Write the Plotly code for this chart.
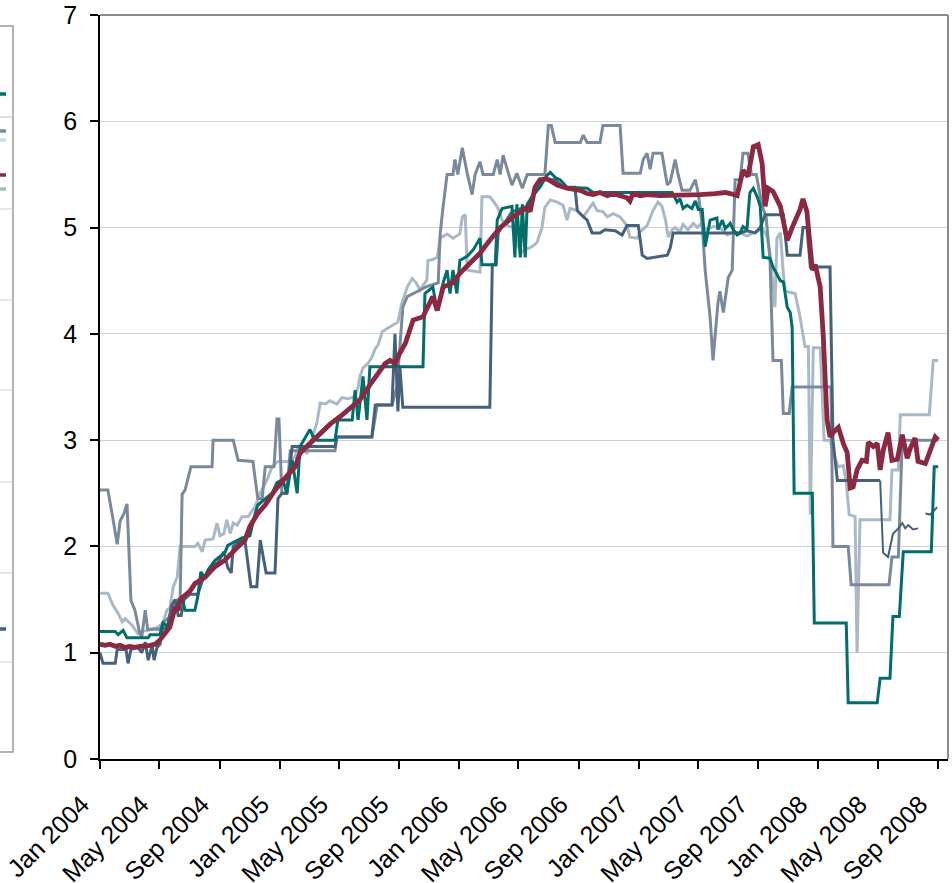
import pandas as pd
import plotly.graph_objects as go

START = pd.Timestamp("2004-01-01")

# x values are day offsets from 1 Jan 2004

teal_day = [0, 31, 37, 47, 55, 98, 102, 122, 128, 136, 146, 157, 167, 173, 193, 199, 205, 214, 220, 234,
            254, 260, 289, 305, 315, 321, 342, 350, 360, 372, 380, 391, 401, 407, 417, 427, 433, 441, 478, 484,
            513, 519, 525, 535, 543, 549, 657, 661, 677, 686, 698, 706, 712, 718, 726, 732, 747, 759, 773, 777,
            804, 808, 818, 838, 844, 848, 855, 859, 865, 869, 879, 895, 909, 916, 926, 936, 950, 991, 1003, 1164,
            1174, 1180, 1186, 1194, 1204, 1211, 1217, 1225, 1231, 1241, 1255, 1257, 1266, 1272, 1282, 1288, 1296, 1302, 1308, 1316,
            1322, 1329, 1337, 1343, 1349, 1363, 1369, 1384, 1390, 1398, 1404, 1408, 1412, 1449, 1453, 1518, 1522, 1581, 1587, 1607,
            1613, 1626, 1634, 1691, 1697, 1705]
teal_val = [1.20, 1.20, 1.17, 1.21, 1.14, 1.14, 1.17, 1.17, 1.28, 1.25, 1.33, 1.45, 1.53, 1.40, 1.40, 1.53, 1.76, 1.70, 1.78, 1.87,
            1.94, 2.01, 2.08, 2.10, 2.30, 2.39, 2.47, 2.50, 2.60, 2.63, 2.50, 2.81, 2.50, 2.94, 3.02, 3.10, 3.04, 3.00, 3.00, 3.19,
            3.19, 3.47, 3.19, 3.60, 3.19, 3.69, 3.69, 4.38, 4.44, 4.22, 4.48, 4.60, 4.38, 4.60, 4.38, 4.69, 4.73, 4.79, 4.90, 4.65,
            4.65, 5.07, 5.18, 5.20, 4.72, 5.22, 4.72, 5.22, 4.72, 5.22, 5.29, 5.38, 5.49, 5.52, 5.47, 5.45, 5.38, 5.37, 5.33, 5.33,
            5.24, 5.27, 5.18, 5.21, 5.18, 5.25, 5.17, 5.17, 4.82, 5.07, 5.09, 4.98, 5.07, 4.99, 5.04, 4.98, 4.93, 4.95, 5.01, 4.98,
            5.33, 5.37, 5.29, 5.20, 4.72, 4.71, 4.63, 4.50, 4.49, 4.25, 4.20, 4.06, 2.50, 2.50, 1.28, 1.28, 0.53, 0.53, 0.76, 0.76,
            1.34, 1.34, 1.95, 1.95, 2.75, 2.75]

slate_day = [0, 16, 26, 35, 41, 49, 55, 63, 71, 81, 85, 92, 97, 122, 132, 146, 153, 163, 167, 173,
             185, 228, 230, 271, 281, 311, 321, 330, 336, 354, 360, 364, 370, 380, 387, 478, 482, 553, 564, 594,
             604, 616, 625, 667, 688, 692, 698, 706, 718, 722, 728, 737, 747, 757, 763, 773, 779, 800, 808, 814,
             820, 828, 838, 848, 859, 869, 905, 912, 918, 926, 977, 983, 991, 1017, 1023, 1058, 1064, 1099, 1105, 1113,
             1119, 1125, 1143, 1154, 1160, 1170, 1176, 1184, 1200, 1211, 1217, 1225, 1231, 1241, 1247, 1257, 1261, 1268, 1278, 1286,
             1292, 1302, 1308, 1318, 1325, 1335, 1347, 1355, 1363, 1369, 1386, 1390, 1402, 1408, 1487, 1491, 1522, 1528, 1605, 1611,
             1624, 1632, 1705]
slate_val = [2.53, 2.53, 2.27, 2.02, 2.24, 2.31, 2.40, 1.49, 1.40, 1.18, 1.15, 1.40, 1.22, 1.22, 1.30, 1.35, 1.49, 1.50, 2.49, 2.53,
             2.75, 2.75, 3.00, 3.00, 2.81, 2.80, 2.45, 2.45, 2.75, 2.75, 3.20, 3.20, 2.50, 2.50, 2.90, 2.90, 3.03, 3.03, 3.33, 3.33,
             3.50, 4.25, 4.35, 4.45, 4.48, 4.94, 5.20, 5.50, 5.50, 5.64, 5.50, 5.75, 5.51, 5.31, 5.50, 5.62, 5.50, 5.50, 5.64, 5.50,
             5.68, 5.55, 5.40, 5.51, 5.37, 5.50, 5.50, 5.96, 5.96, 5.80, 5.80, 5.87, 5.80, 5.80, 5.96, 5.96, 5.51, 5.51, 5.64, 5.70,
             5.55, 5.70, 5.70, 5.40, 5.43, 5.64, 5.50, 5.35, 5.35, 5.45, 5.32, 5.03, 4.60, 4.16, 3.75, 4.29, 4.40, 4.20, 4.53, 4.60,
             5.45, 5.45, 5.70, 5.70, 5.50, 5.50, 5.20, 5.10, 4.69, 3.75, 3.75, 3.25, 3.25, 3.50, 3.50, 2.00, 2.00, 1.64, 1.64, 1.90,
             1.90, 3.00, 3.00]

dark_day = [0, 6, 31, 35, 53, 57, 63, 77, 85, 92, 98, 106, 110, 116, 122, 128, 136, 146, 153, 159,
            165, 171, 183, 199, 210, 224, 240, 252, 260, 267, 271, 285, 295, 301, 307, 319, 326, 332, 338, 356,
            362, 370, 380, 391, 478, 482, 553, 560, 594, 600, 606, 610, 616, 793, 798, 806, 810, 838, 869, 885,
            901, 926, 942, 966, 971, 977, 991, 1001, 1017, 1027, 1048, 1062, 1072, 1095, 1103, 1113, 1154, 1160, 1166, 1221,
            1302, 1316, 1333, 1343, 1353, 1390, 1398, 1424, 1430, 1438, 1445, 1485, 1491, 1500, 1587]
dark_val = [1.00, 0.90, 0.90, 1.03, 1.03, 0.90, 1.03, 1.05, 1.00, 1.10, 0.93, 1.07, 0.93, 1.05, 1.08, 1.24, 1.22, 1.45, 1.50, 1.35,
            1.35, 1.50, 1.55, 1.55, 1.70, 1.80, 1.85, 1.95, 1.80, 1.75, 2.00, 2.05, 2.05, 1.85, 1.62, 1.62, 2.06, 1.90, 1.75, 1.75,
            2.45, 2.50, 2.50, 2.94, 2.94, 3.03, 3.03, 3.33, 3.33, 4.00, 3.27, 3.69, 3.31, 3.31, 4.65, 4.65, 4.95, 5.15, 5.20, 5.35,
            5.45, 5.45, 5.38, 5.38, 5.16, 5.13, 5.07, 4.95, 4.95, 4.98, 4.97, 4.93, 5.02, 5.02, 4.74, 4.71, 4.74, 4.81, 4.95, 4.95,
            4.95, 4.97, 4.95, 5.00, 5.12, 5.12, 4.74, 4.74, 5.00, 5.00, 4.63, 4.63, 3.00, 2.62, 2.62]

dark_late_day = [1587, 1593, 1603, 1613, 1624, 1632, 1638, 1644, 1654, 1664, 1671, 1679, 1689, 1695, 1703]
dark_late_val = [2.62, 1.94, 1.90, 2.12, 2.17, 2.22, 2.17, 2.20, 2.16, 2.17, None, 2.31, 2.30, 2.33, 2.37]

light_day = [0, 16, 26, 37, 45, 51, 65, 77, 83, 98, 118, 128, 136, 142, 149, 157, 163, 193, 199, 208,
             214, 230, 238, 244, 252, 258, 265, 271, 279, 289, 301, 315, 326, 342, 350, 362, 383, 397, 403, 413,
             421, 441, 448, 458, 468, 482, 492, 503, 513, 519, 525, 529, 535, 545, 553, 560, 566, 574, 584, 596,
             606, 614, 625, 635, 643, 651, 665, 667, 677, 686, 692, 706, 718, 732, 737, 743, 747, 773, 777, 793,
             800, 810, 818, 828, 840, 855, 865, 879, 889, 899, 905, 916, 930, 942, 950, 956, 971, 983, 991, 1003,
             1011, 1023, 1032, 1044, 1058, 1072, 1078, 1093, 1099, 1113, 1125, 1135, 1143, 1150, 1156, 1164, 1170, 1180, 1186, 1196,
             1207, 1215, 1221, 1235, 1247, 1261, 1276, 1288, 1302, 1316, 1329, 1339, 1347, 1357, 1363, 1367, 1373, 1377, 1384, 1390,
             1394, 1414, 1424, 1434, 1441, 1445, 1451, 1465, 1473, 1485, 1495, 1502, 1512, 1518, 1524, 1536, 1540, 1546, 1607, 1611,
             1624, 1628, 1687, 1695, 1705]
light_val = [1.56, 1.56, 1.45, 1.37, 1.29, 1.32, 1.26, 1.18, 1.20, 1.21, 1.24, 1.28, 1.40, 1.42, 1.62, 1.71, 2.00, 2.00, 2.03, 1.95,
             2.06, 2.07, 2.22, 2.10, 2.12, 2.25, 2.12, 2.22, 2.20, 2.28, 2.28, 2.37, 2.50, 2.65, 2.75, 2.80, 2.80, 2.84, 2.95, 2.90,
             2.88, 3.16, 3.35, 3.34, 3.37, 3.34, 3.40, 3.39, 3.40, 3.42, 3.50, 3.60, 3.68, 3.72, 3.78, 3.86, 3.90, 4.02, 4.05, 4.08,
             4.11, 4.29, 4.44, 4.52, 4.48, 4.41, 4.51, 4.69, 4.70, 4.72, 4.90, 4.94, 4.90, 4.94, 5.10, 5.12, 4.60, 4.58, 5.29, 5.29,
             5.25, 5.18, 5.07, 5.02, 5.00, 4.76, 4.79, 4.82, 4.86, 5.00, 5.19, 5.26, 5.24, 5.21, 5.07, 5.18, 5.16, 5.10, 5.15, 5.23,
             5.16, 5.15, 5.10, 5.13, 5.10, 5.02, 4.91, 4.90, 4.96, 5.02, 5.16, 5.24, 5.20, 5.08, 4.91, 4.98, 5.00, 4.96, 5.03, 4.98,
             5.04, 5.00, 5.03, 4.98, 5.01, 5.00, 4.93, 4.96, 4.95, 4.92, 4.95, 4.97, 5.00, 4.91, 4.76, 4.57, 4.25, 4.90, 4.95, 4.57,
             4.40, 4.38, 4.16, 3.88, 3.88, 2.30, 3.87, 3.87, 3.00, 3.00, 2.83, 2.75, 2.76, 2.60, 2.30, 2.28, 1.00, 2.25, 2.25, 2.72,
             2.72, 3.24, 3.24, 3.75, 3.75]

maroon_day = [0, 10, 20, 31, 41, 51, 61, 71, 81, 92, 102, 112, 122, 132, 142, 153, 159, 163, 173, 183,
              193, 214, 234, 254, 275, 295, 305, 321, 336, 356, 376, 397, 407, 427, 448, 468, 488, 509, 529, 549,
              570, 580, 590, 600, 610, 621, 637, 657, 677, 686, 698, 718, 732, 753, 773, 793, 814, 840, 861, 869,
              875, 885, 895, 909, 930, 950, 977, 991, 1003, 1017, 1032, 1044, 1058, 1072, 1078, 1084, 1099, 1113, 1139, 1166,
              1194, 1221, 1251, 1272, 1282, 1296, 1308, 1318, 1329, 1339, 1347, 1353, 1359, 1369, 1384, 1398, 1408, 1424, 1430, 1438,
              1449, 1455, 1465, 1471, 1479, 1485, 1491, 1502, 1512, 1520, 1526, 1532, 1540, 1550, 1559, 1563, 1573, 1581, 1587, 1593,
              1603, 1611, 1622, 1632, 1642, 1648, 1658, 1664, 1679, 1689, 1699, 1705]
maroon_val = [1.08, 1.07, 1.08, 1.06, 1.07, 1.05, 1.06, 1.05, 1.06, 1.06, 1.07, 1.08, 1.12, 1.18, 1.24, 1.43, 1.40, 1.50, 1.54, 1.58,
              1.65, 1.71, 1.81, 1.87, 1.97, 2.06, 2.19, 2.31, 2.39, 2.53, 2.64, 2.75, 2.88, 2.97, 3.07, 3.15, 3.22, 3.30, 3.38, 3.52,
              3.66, 3.72, 3.75, 3.72, 3.82, 3.91, 4.13, 4.16, 4.35, 4.22, 4.44, 4.48, 4.57, 4.66, 4.76, 4.88, 5.00, 5.10, 5.17, 5.19,
              5.15, 5.38, 5.45, 5.46, 5.40, 5.37, 5.35, 5.32, 5.31, 5.33, 5.30, 5.32, 5.30, 5.28, 5.25, 5.32, 5.30, 5.31, 5.30, 5.30,
              5.31, 5.31, 5.32, 5.33, 5.32, 5.30, 5.54, 5.48, 5.76, 5.78, 5.60, 5.20, 5.37, 5.34, 5.20, 4.88, 5.00, 5.17, 5.27, 5.15,
              4.60, 4.65, 4.44, 4.00, 3.19, 3.03, 3.07, 3.12, 2.97, 2.88, 2.55, 2.56, 2.72, 2.81, 2.80, 2.98, 2.94, 2.97, 2.72, 2.90,
              3.07, 2.81, 2.82, 3.05, 2.83, 2.92, 3.02, 2.80, 2.78, 2.90, 3.03, 3.00]

tick_dates = ["2004-01-01", "2004-05-01", "2004-09-01", "2005-01-01", "2005-05-01", "2005-09-01", "2006-01-01",
              "2006-05-01", "2006-09-01", "2007-01-01", "2007-05-01", "2007-09-01", "2008-01-01", "2008-05-01",
              "2008-09-01"]
tick_labels = ["Jan 2004", "May 2004", "Sep 2004", "Jan 2005", "May 2005", "Sep 2005", "Jan 2006",
               "May 2006", "Sep 2006", "Jan 2007", "May 2007", "Sep 2007", "Jan 2008", "May 2008", "Sep 2008"]
y_ticks = [0, 1, 2, 3, 4, 5, 6, 7]

C_TEAL = "#006e69"
C_SLATE = "#7a8a9b"
C_PALE = "#d3d9de"
C_MAROON = "#8b2942"
C_LIGHT = "#aab9c5"
C_DARK = "#46627a"


def to_dates(days):
    return [START + pd.Timedelta(days=d) for d in days]


fig = go.Figure()
series = [
    (light_day, light_val, C_LIGHT, 3.0),
    (slate_day, slate_val, C_SLATE, 3.0),
    (dark_day, dark_val, C_DARK, 3.0),
    (dark_late_day, dark_late_val, C_DARK, 2.0),
    (teal_day, teal_val, C_TEAL, 3.0),
    (maroon_day, maroon_val, C_MAROON, 4.8),
]
for d, v, c, w in series:
    fig.add_trace(go.Scatter(x=to_dates(d), y=v, mode="lines", line=dict(color=c, width=w),
                             connectgaps=False, showlegend=False, hoverinfo="skip"))

W, H = 952, 883
L, R, T, B = 100, 4, 15, 124
PW, PH = W - L - R, H - T - B


def px(x_page):
    return (x_page - L) / PW


def py(y_page):
    return (H - B - y_page) / PH


shapes = []
# plot frame (top and right)
shapes.append(dict(type="line", xref="paper", yref="paper", x0=0, x1=1, y0=1, y1=1,
                   line=dict(color="#8c8c8c", width=2)))
shapes.append(dict(type="line", xref="paper", yref="paper", x0=1, x1=1, y0=0, y1=1,
                   line=dict(color="#8c8c8c", width=2)))
# partially visible legend box on the left
shapes.append(dict(type="rect", xref="paper", yref="paper", x0=px(-20), x1=px(13), y0=py(752), y1=py(26),
                   line=dict(color="#9a9a9a", width=1.5)))
for yy, col in [(117, "#b4bfc8"), (209, "#c8d2d9"), (300, "#c8d2d9"), (390, "#c8d2d9"),
                (482, "#c8d2d9"), (573, "#c8d2d9"), (662, "#c8d2d9")]:
    shapes.append(dict(type="line", xref="paper", yref="paper", x0=px(-20), x1=px(13), y0=py(yy), y1=py(yy),
                       line=dict(color=col, width=1.2)))
for yy, col in [(94, C_TEAL), (131, C_SLATE), (140, C_PALE), (175, C_MAROON), (189, C_LIGHT), (629, C_DARK)]:
    shapes.append(dict(type="line", xref="paper", yref="paper", x0=px(-10), x1=px(6), y0=py(yy), y1=py(yy),
                       line=dict(color=col, width=3.5)))

fig.update_layout(
    width=W, height=H,
    margin=dict(l=L, r=R, t=T, b=B, autoexpand=False),
    paper_bgcolor="white", plot_bgcolor="white",
    font=dict(family="Liberation Sans, Arial, sans-serif", color="black", size=24),
    shapes=shapes,
    xaxis=dict(type="date", range=["2004-01-01", "2008-09-21"], automargin=False,
               tickmode="array", tickvals=tick_dates, ticktext=tick_labels, tickangle=-45,
               ticks="outside", ticklen=8, tickwidth=1.5, tickcolor="black",
               showline=True, linecolor="black", linewidth=1.5, showgrid=False, zeroline=False,
               tickfont=dict(size=25), ticklabelshift=-18, ticklabelstandoff=11,
               ticklabeloverflow="allow"),
    yaxis=dict(range=[0, 7], tickmode="array", tickvals=y_ticks, automargin=False,
               ticks="outside", ticklen=8, tickwidth=1.5, tickcolor="black",
               showline=True, linecolor="black", linewidth=1.5,
               showgrid=True, gridcolor="#c9d3da", gridwidth=1.3, zeroline=False,
               tickfont=dict(size=25), ticklabelstandoff=8, ticklabeloverflow="allow"),
    hovermode=False,
)

fig.write_html("out.html", config={"displayModeBar": False},
               post_script="document.body.style.margin='0';document.body.style.overflow='hidden';")
